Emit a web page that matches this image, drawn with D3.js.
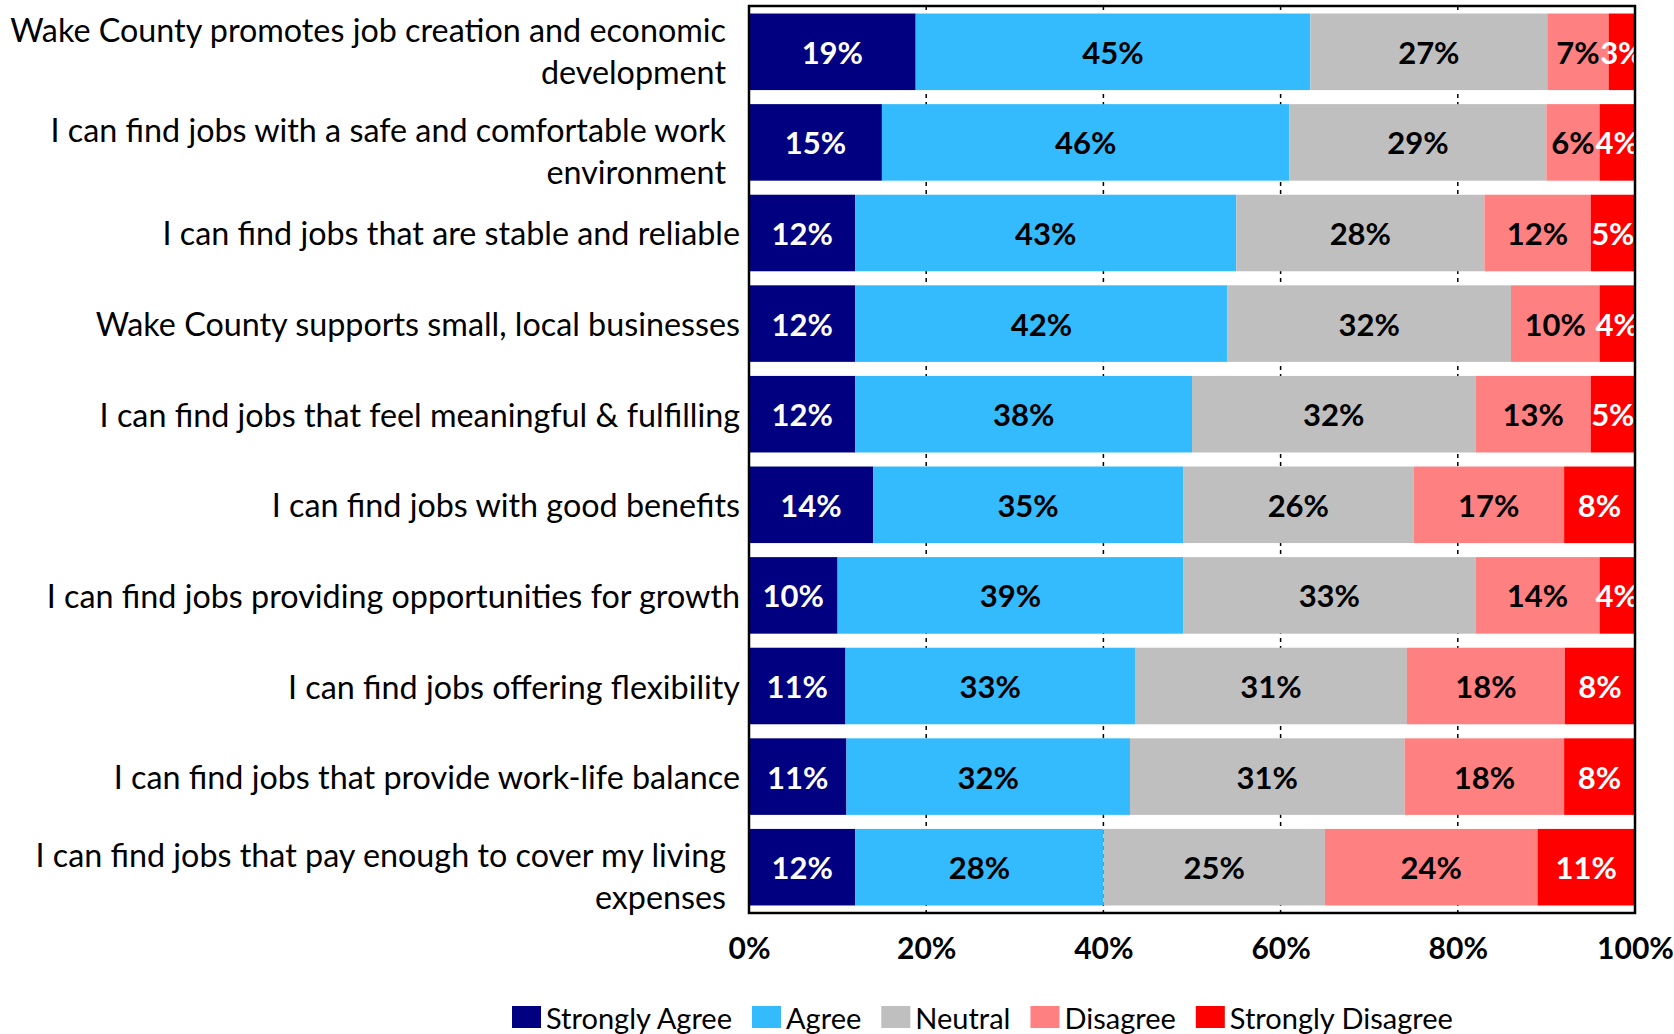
<!DOCTYPE html>
<html>
<head>
<meta charset="utf-8">
<script src="https://cdn.jsdelivr.net/npm/d3@7"></script>
<style>
  html, body { margin: 0; padding: 0; background: #fff; }
  svg { display: block; }
  text { font-family: Lato, "Open Sans", sans-serif; }
</style>
</head>
<body>
<svg id="chart" width="1674" height="1034"></svg>
<script>
// Survey statements (top to bottom), lines split where the label wraps
const categories = [
  ["Wake County promotes job creation and economic", "development"],
  ["I can find jobs with a safe and comfortable work", "environment"],
  ["I can find jobs that are stable and reliable"],
  ["Wake County supports small, local businesses"],
  ["I can find jobs that feel meaningful & fulfilling"],
  ["I can find jobs with good benefits"],
  ["I can find jobs providing opportunities for growth"],
  ["I can find jobs offering flexibility"],
  ["I can find jobs that provide work-life balance"],
  ["I can find jobs that pay enough to cover my living", "expenses"]
];

const responses = ["Strongly Agree", "Agree", "Neutral", "Disagree", "Strongly Disagree"];

// Percent of respondents per response, one entry per statement
const stronglyAgree    = [19, 15, 12, 12, 12, 14, 10, 11, 11, 12];
const agree            = [45, 46, 43, 42, 38, 35, 39, 33, 32, 28];
const neutral          = [27, 29, 28, 32, 32, 26, 33, 31, 31, 25];
const disagree         = [ 7,  6, 12, 10, 13, 17, 14, 18, 18, 24];
const stronglyDisagree = [ 3,  4,  5,  4,  5,  8,  4,  8,  8, 11];

const xTicks = [0, 0.2, 0.4, 0.6, 0.8, 1.0];

const colors = ["#000080", "#33BBFD", "#BFBFBF", "#FF8080", "#FF0000"];
const labelColors = ["#fff", "#000", "#000", "#000", "#fff"];

const seriesValues = [stronglyAgree, agree, neutral, disagree, stronglyDisagree];
const rows = categories.map((c, i) => {
  const r = { key: c.join(" "), lines: c };
  responses.forEach((s, j) => { r[s] = seriesValues[j][i]; });
  return r;
});

const svg = d3.select("#chart");
const plot = { left: 749, right: 1635, top: 6, bottom: 913 };

const x = d3.scaleLinear().domain([0, 1]).range([plot.left, plot.right]);
const y = d3.scaleBand()
  .domain(rows.map(d => d.key))
  .range([plot.top, plot.bottom])
  .paddingInner(0.155)
  .paddingOuter(0.083);

// 100% stacked layout
const stack = d3.stack().keys(responses).offset(d3.stackOffsetExpand);
const series = stack(rows);

svg.append("defs").append("clipPath").attr("id", "plotClip")
  .append("rect")
  .attr("x", plot.left).attr("y", plot.top)
  .attr("width", plot.right - plot.left).attr("height", plot.bottom - plot.top);

// dashed vertical gridlines (visible in the gaps between bars)
svg.append("g")
  .selectAll("line")
  .data(xTicks.slice(1, -1))
  .join("line")
  .attr("x1", d => x(d)).attr("x2", d => x(d))
  .attr("y1", plot.top).attr("y2", plot.bottom)
  .attr("stroke", "#000")
  .attr("stroke-width", 1.5)
  .attr("stroke-dasharray", "4,4");

// stacked segments
const layers = svg.append("g").selectAll("g")
  .data(series)
  .join("g")
  .attr("fill", (d, i) => colors[i]);

layers.selectAll("rect")
  .data(d => d.map(p => ({ p, key: d.key })))
  .join("rect")
  .attr("x", d => x(d.p[0]))
  .attr("y", d => y(d.p.data.key))
  .attr("width", d => x(d.p[1]) - x(d.p[0]))
  .attr("height", y.bandwidth());

// value labels, centred in each segment
const labelG = svg.append("g").attr("clip-path", "url(#plotClip)");
series.forEach((s, i) => {
  labelG.append("g").selectAll("text")
    .data(s)
    .join("text")
    .attr("x", p => x((p[0] + p[1]) / 2))
    .attr("y", p => y(p.data.key) + y.bandwidth() / 2)
    .attr("text-anchor", "middle")
    .attr("dominant-baseline", "central")
    .attr("font-size", 31)
    .attr("font-weight", 700)
    .attr("fill", labelColors[i])
    .text(p => p.data[s.key] + "%");
});

// plot frame
svg.append("rect")
  .attr("x", plot.left).attr("y", plot.top)
  .attr("width", plot.right - plot.left).attr("height", plot.bottom - plot.top)
  .attr("fill", "none")
  .attr("stroke", "#000")
  .attr("stroke-width", 2.5);

// x axis tick labels
const xAxis = d3.axisBottom(x)
  .tickValues(xTicks)
  .tickFormat(d3.format(".0%"))
  .tickSize(0)
  .tickPadding(25);
const xg = svg.append("g").attr("transform", `translate(0,${plot.bottom})`).call(xAxis);
xg.select(".domain").remove();
xg.selectAll("text")
  .attr("font-family", "Lato, sans-serif")
  .attr("font-size", 30)
  .attr("font-weight", 700)
  .attr("fill", "#000");

// category labels, right aligned; wrapped labels sit a little low,
// except the top one which is pulled up to stay inside the chart
const lineH = 42;
const catG = svg.append("g");
rows.forEach((r, i) => {
  const n = r.lines.length;
  const shift = n > 1 ? (i === 0 ? -1 : 8) : 0;
  const cy = y(r.key) + y.bandwidth() / 2 + shift;
  const ax = n > 1 ? 726 : 740;
  const t = catG.append("text")
    .attr("text-anchor", "end")
    .attr("font-size", 32.3)
    .attr("fill", "#000");
  r.lines.forEach((ln, k) => {
    t.append("tspan")
      .attr("x", ax)
      .attr("y", cy + (k - (n - 1) / 2) * lineH)
      .attr("dominant-baseline", "central")
      .text(ln);
  });
});

// legend
const legend = svg.append("g").attr("transform", "translate(512,1017)");
let lx = 0;
responses.forEach((s, i) => {
  const g = legend.append("g").attr("transform", `translate(${lx},0)`);
  g.append("rect").attr("x", 0).attr("y", -11).attr("width", 29).attr("height", 22).attr("fill", colors[i]);
  const t = g.append("text")
    .attr("x", 34).attr("y", 0)
    .attr("dominant-baseline", "central")
    .attr("font-size", 29)
    .attr("fill", "#000")
    .text(s);
  lx += 34 + t.node().getComputedTextLength() + 20;
});
</script>
</body>
</html>
